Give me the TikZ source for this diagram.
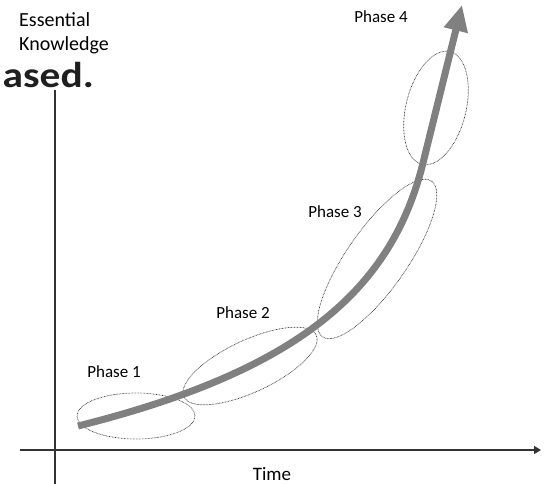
\documentclass[tikz,border=0pt]{standalone}
\usepackage{fontspec}
\setmainfont{Carlito}
\usetikzlibrary{shapes.geometric,arrows.meta}
\begin{document}
\begin{tikzpicture}[x=1pt,y=-1pt,
  phaseell/.style={draw=black!80, dash pattern=on 0.7pt off 0.8pt, line width=0.7pt, ellipse, inner sep=0pt},
  lbl/.style={font=\fontsize{17}{19}\selectfont, text=black, inner sep=0pt},
  axis/.style={draw=black!80, line width=1.2pt},
  growth/.style={draw=black!50, line width=7pt, line join=round, -{Triangle[length=26pt,width=23pt]}}]
\useasboundingbox (0,0) rectangle (547,484);
\begin{scope}
\clip (0,0) rectangle (547,484);
% title fragment
\node[anchor=base east, inner sep=0pt, text=black!88, font=\fontsize{36}{40}\selectfont\bfseries] (title) at (94,88) {\scalebox{1.15}[1]{ased.}};
% axes
\coordinate (yb) at (55,484);
\coordinate (yt) at (55,90);
\coordinate (xl) at (20,450);
\coordinate (xr) at (541,450);
\draw[axis] (yb) -- (yt);
\draw[axis, -{Triangle[length=7pt,width=8pt]}] (xl) -- (xr);
\end{scope}
% axis labels
\node[anchor=base west, inner sep=0pt, text=black, font=\fontsize{20}{24}\selectfont] (ess) at (19,27) {Essential};
\node[anchor=base west, inner sep=0pt, text=black, font=\fontsize{20}{24}\selectfont] (know) at (19,51) {Knowledge};
\node[lbl, font=\fontsize{19}{21}\selectfont] (time) at (272,474) {Time};
% phase ellipses
\node[phaseell, minimum width=118pt, minimum height=46pt] (e1) at (136,416) {};
\node[phaseell, minimum width=146pt, minimum height=52pt, rotate=25] (e2) at (250,366) {};
\node[phaseell, minimum width=190pt, minimum height=60pt, rotate=55] (e3) at (377,259) {};
\node[phaseell, minimum width=116pt, minimum height=60pt, rotate=76] (e4) at (436,108) {};
% phase labels
\node[lbl] (p1) at (114,372) {Phase 1};
\node[lbl] (p2) at (243,313) {Phase 2};
\node[lbl] (p3) at (335,212) {Phase 3};
\node[lbl] (p4) at (381,17) {Phase 4};
% growth curve
\coordinate (gs) at (78,426);
\coordinate (gc1) at (302,370);
\coordinate (gc2) at (392,288);
\coordinate (gm) at (423,163);
\coordinate (gt) at (462,5);
\draw[growth] (gs) .. controls (gc1) and (gc2) .. (gm) -- (gt);
\end{tikzpicture}
\end{document}
